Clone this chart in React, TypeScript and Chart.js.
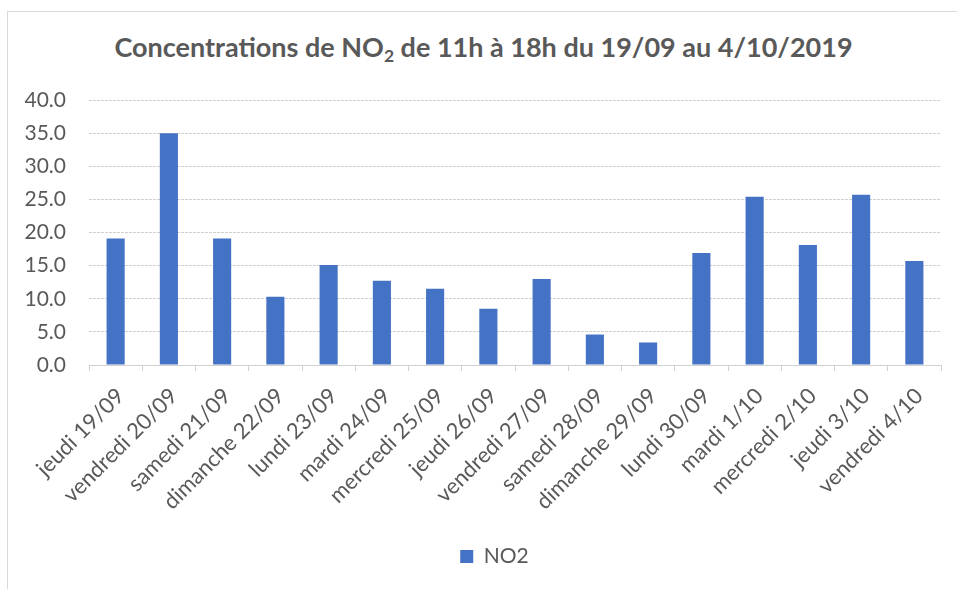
import React, { useEffect, useRef } from "react";
import { Chart, registerables } from "chart.js";

Chart.register(...registerables);

const categories = [
  "jeudi 19/09",
  "vendredi 20/09",
  "samedi 21/09",
  "dimanche 22/09",
  "lundi 23/09",
  "mardi 24/09",
  "mercredi 25/09",
  "jeudi 26/09",
  "vendredi 27/09",
  "samedi 28/09",
  "dimanche 29/09",
  "lundi 30/09",
  "mardi 1/10",
  "mercredi 2/10",
  "jeudi 3/10",
  "vendredi 4/10",
];

const no2Values = [19.1, 35.0, 19.1, 10.3, 15.1, 12.7, 11.5, 8.5, 13.0, 4.6, 3.4, 16.9, 25.4, 18.1, 25.7, 15.7];

const seriesLabel = "NO2";
const yMin = 0;
const yMax = 40;
const yStep = 5;

const TEXT = "#595959";
const GRID = "#d0d0d0";
const BAR = "#4472C4";
const FONT = "Lato, 'Open Sans', sans-serif";

const legendShift = {
  id: "legendShift",
  afterLayout(chart: any) {
    const lg = chart.legend;
    if (lg) {
      lg.left += 24;
      lg.right += 24;
    }
  },
};

export default function App() {
  const ref = useRef<HTMLCanvasElement | null>(null);

  useEffect(() => {
    const prevMargin = document.body.style.margin;
    document.body.style.margin = "0";
    if (!ref.current) return;
    const chart = new Chart(ref.current, {
      type: "bar",
      data: {
        labels: categories,
        datasets: [
          {
            label: seriesLabel,
            data: no2Values,
            backgroundColor: BAR,
            borderWidth: 0,
            categoryPercentage: 1,
            barPercentage: 0.34,
          },
        ],
      },
      plugins: [legendShift],
      options: {
        animation: false,
        responsive: false,
        maintainAspectRatio: false,
        layout: { padding: { top: 100, right: 16, bottom: 12, left: 0 } },
        plugins: {
          title: { display: false },
          tooltip: { enabled: false },
          legend: {
            display: true,
            position: "bottom",
            labels: {
              color: TEXT,
              font: { family: FONT, size: 21 },
              boxWidth: 13,
              boxHeight: 13,
              padding: 10,
            },
          },
        },
        scales: {
          x: {
            offset: true,
            grid: {
              offset: true,
              drawOnChartArea: false,
              drawTicks: true,
              tickLength: 6,
              color: GRID,
            },
            border: { display: true, color: GRID, width: 1 },
            ticks: {
              color: TEXT,
              font: { family: FONT, size: 22 },
              minRotation: 45,
              maxRotation: 45,
              autoSkip: false,
              padding: 12,
              labelOffset: 5,
            },
            afterFit: (scale: any) => {
              scale.height = 171;
            },
          },
          y: {
            min: yMin,
            max: yMax,
            grid: {
              color: GRID,
              drawTicks: false,
              lineWidth: 1,
            },
            border: { display: false, dash: [3, 1] },
            ticks: {
              stepSize: yStep,
              color: TEXT,
              font: { family: FONT, size: 21 },
              padding: 23,
              callback: (v: any) => Number(v).toFixed(1),
            },
            afterFit: (scale: any) => {
              scale.width = 89;
            },
          },
        },
      },
    });
    return () => {
      chart.destroy();
      document.body.style.margin = prevMargin;
    };
  }, []);

  return (
    <div style={{ position: "relative", width: 957, height: 589, overflow: "hidden", background: "#fff" }}>
      <div
        style={{
          position: "absolute",
          left: 7,
          top: 11,
          width: 980,
          height: 620,
          border: "1px solid #d9d9d9",
          boxSizing: "border-box",
        }}
      />
      <div
        style={{
          position: "absolute",
          left: 5,
          width: 957,
          top: 31,
          textAlign: "center",
          fontFamily: FONT,
          fontWeight: 700,
          fontSize: 27,
          color: TEXT,
          lineHeight: "32px",
          whiteSpace: "nowrap",
        }}
      >
        Concentrations de NO<sub style={{ fontSize: "0.65em", verticalAlign: "-0.3em", lineHeight: 0 }}>2</sub> de 11h à 18h du 19/09 au 4/10/2019
      </div>
      <canvas ref={ref} width={957} height={589} style={{ position: "absolute", left: 0, top: 0 }} />
    </div>
  );
}
